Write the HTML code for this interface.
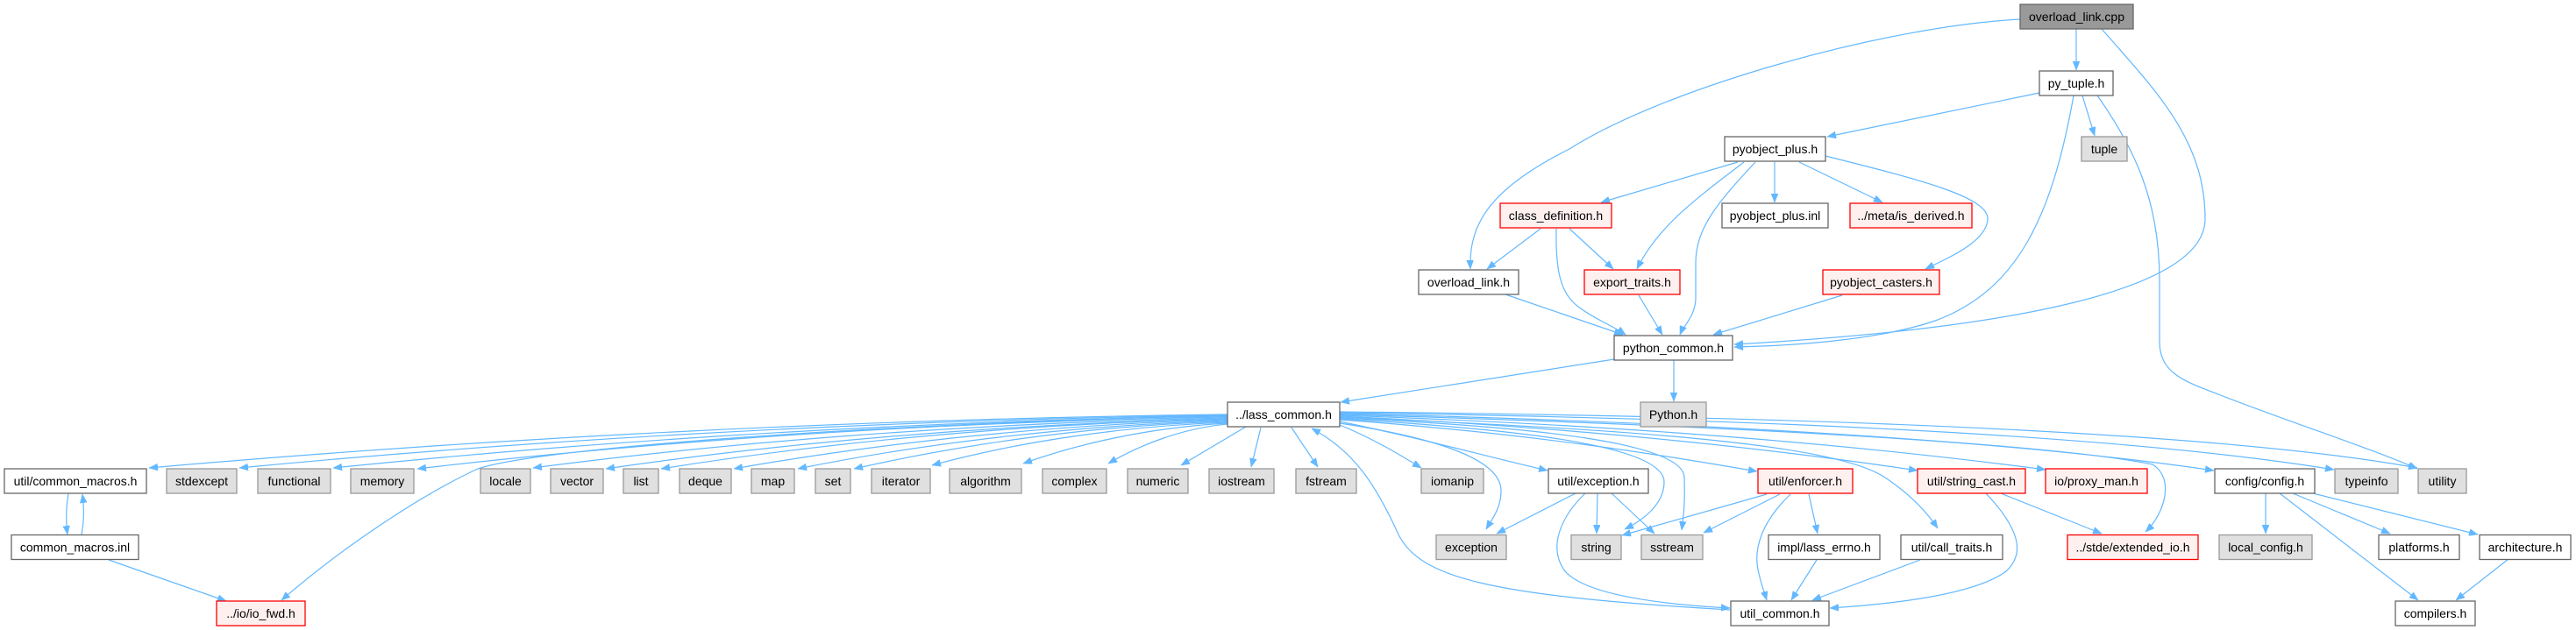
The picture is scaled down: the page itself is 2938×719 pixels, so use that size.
<!DOCTYPE html>
<html><head><meta charset="utf-8"><style>
html,body{margin:0;padding:0;background:#fff;}
svg{display:block;}
.w{fill:#fff;stroke:#666;stroke-width:1.3}
.g{fill:#e0e0e0;stroke:#999;stroke-width:1.3}
.r{fill:#fff0f0;stroke:#f00;stroke-width:1.3}
.root{fill:#999;stroke:#666;stroke-width:1.3}
text{font-family:"Liberation Sans",Arial,sans-serif;font-size:14px;fill:#000;text-anchor:middle}
.e path{fill:none;stroke:#63b8ff;stroke-width:1.2;marker-end:url(#a)}
</style></head><body>
<svg width="2938" height="719" viewBox="0 0 2938 719" xmlns="http://www.w3.org/2000/svg">
<defs><marker id="a" viewBox="0 0 10 8" refX="10" refY="4" markerWidth="10" markerHeight="8" markerUnits="userSpaceOnUse" orient="auto"><path d="M0,0 L10,4 L0,8 z" fill="#63b8ff" stroke="#63b8ff" stroke-width="0.5"/></marker></defs>
<g class="e">
<!-- top part -->
<path d="M2368,33 L2368,80"/>
<path d="M2304,22 C2150,30 1900,100 1790,170 C1700,215 1675,255 1677,307"/>
<path d="M2397,33 C2460,105 2515,160 2515,250 C2515,330 2300,375 1978,393"/>
<path d="M2326,106 L2084,156"/>
<path d="M2375,109 L2389,155"/>
<path d="M2365,109 C2340,250 2300,330 2210,365 C2140,390 2030,395 1978,396"/>
<path d="M2392,109 C2435,170 2463,230 2463,320 L2463,390 C2463,425 2490,435 2530,450 C2620,485 2700,510 2757,535"/>
<path d="M1982,185 L1826,231"/>
<path d="M1989,185 C1930,230 1890,260 1867,307"/>
<path d="M2002,185 C1960,230 1934,260 1934,300 L1934,340 C1934,360 1920,372 1916,382"/>
<path d="M2024,185 L2024,231"/>
<path d="M2052,185 L2147,231"/>
<path d="M2082,178 C2190,205 2268,225 2267,250 C2266,275 2225,293 2196,307"/>
<path d="M1757,261 L1696,307"/>
<path d="M1790,261 L1840,307"/>
<path d="M1775,261 C1774,310 1780,335 1800,350 C1820,365 1840,372 1854,382"/>
<path d="M1717,336 L1851,382"/>
<path d="M1869,337 L1896,382"/>
<path d="M2101,337 L1954,382"/>
<path d="M1909,411 L1909,458"/>
<path d="M1841,410 L1529,459"/>
<!-- lass_common left fan -->
<path d="M1400,473 C908,479 478,507 170,534"/>
<path d="M1400,474 C949,480 555,507 273,534"/>
<path d="M1400,475 C992,481 635,508 380,534"/>
<path d="M1400,476 C1030,482 707,508 476,535"/>
<path d="M1400,477 C1083,483 806,508 608,534"/>
<path d="M1400,478 C1116,484 868,509 691,535"/>
<path d="M1400,478 C1142,484 916,509 754,535"/>
<path d="M1400,479 C1175,485 978,510 837,535"/>
<path d="M1400,480 C1204,486 1033,510 910,535"/>
<path d="M1400,481 C1230,486 1080,511 974,535"/>
<path d="M1400,482 C1265,487 1147,508 1063,531"/>
<path d="M1400,483 C1307,488 1225,508 1167,529"/>
<path d="M1400,484 C1346,489 1298,509 1264,529"/>
<path d="M1400,474 C1000,484 620,510 545,535 C480,565 390,625 321,685"/>
<path d="M1421,487 L1347,531"/>
<path d="M1438,488 L1427,533"/>
<path d="M1473,488 L1503,533"/>
<!-- lass_common right fan -->
<path d="M1528,485 C1565,500 1595,518 1621,534"/>
<path d="M1528,481 C1620,500 1700,522 1765,537"/>
<path d="M1528,479 C1750,495 1900,520 2004,538"/>
<path d="M1528,483 C1640,500 1712,525 1712,560 C1712,580 1702,592 1695,604"/>
<path d="M1528,478 C1700,488 1898,505 1898,550 C1898,575 1875,593 1853,604"/>
<path d="M1528,477 C1750,487 1920,505 1921,545 C1922,575 1920,590 1918,605"/>
<path d="M1528,476 C1850,490 2090,505 2150,545 C2180,565 2198,585 2210,603"/>
<path d="M1528,475 C1800,488 2020,512 2187,537"/>
<path d="M1528,474 C1900,487 2150,512 2333,536"/>
<path d="M1528,473 C1950,485 2330,505 2455,530 C2480,545 2470,585 2447,607"/>
<path d="M1528,472 C2000,483 2330,508 2525,537"/>
<path d="M1528,471 C2100,479 2460,503 2662,536"/>
<path d="M1528,470 C2150,476 2560,498 2757,534"/>
<!-- lower -->
<path d="M78,563 C75,580 75,595 77,610"/>
<path d="M93,610 C96,595 96,580 94,564"/>
<path d="M124,639 L258,686"/>
<path d="M1797,563 L1707,609"/>
<path d="M1822,563 L1821,609"/>
<path d="M1838,563 L1887,609"/>
<path d="M1808,563 C1780,590 1765,625 1785,652 C1810,680 1900,690 1973,694"/>
<path d="M2015,564 L1850,611"/>
<path d="M2030,564 L1943,608"/>
<path d="M2042,564 C2010,595 2000,625 2005,650 C2008,665 2012,675 2015,685"/>
<path d="M2063,564 L2073,609"/>
<path d="M2072,639 L2043,685"/>
<path d="M2190,639 L2067,685"/>
<path d="M2265,563 C2300,600 2312,630 2288,652 C2250,680 2150,690 2087,694"/>
<path d="M2282,563 L2397,609"/>
<path d="M1973,696 C1700,680 1620,660 1595,610 C1570,555 1545,515 1496,489"/>
<path d="M2584,563 L2584,609"/>
<path d="M2615,563 L2726,609"/>
<path d="M2638,563 L2826,610"/>
<path d="M2600,563 L2758,685"/>
<path d="M2861,638 L2801,685"/>
</g>
<!-- nodes -->
<rect class="root" x="2304" y="5" width="129" height="28"/><text x="2368.5" y="24">overload_link.cpp</text>
<rect class="w" x="2326" y="81" width="84" height="28"/><text x="2368" y="100">py_tuple.h</text>
<rect class="w" x="1967" y="156" width="115" height="28"/><text x="2024.5" y="175">pyobject_plus.h</text>
<rect class="g" x="2374" y="156" width="52" height="28"/><text x="2400" y="175">tuple</text>
<rect class="r" x="1711" y="232" width="127" height="28"/><text x="1774.5" y="251">class_definition.h</text>
<rect class="w" x="1964" y="232" width="121" height="28"/><text x="2024.5" y="251">pyobject_plus.inl</text>
<rect class="r" x="2110" y="232" width="139" height="28"/><text x="2179.5" y="251">../meta/is_derived.h</text>
<rect class="w" x="1618" y="308" width="114" height="28"/><text x="1675" y="327">overload_link.h</text>
<rect class="r" x="1807" y="308" width="109" height="28"/><text x="1861.5" y="327">export_traits.h</text>
<rect class="r" x="2079" y="308" width="133" height="28"/><text x="2145.5" y="327">pyobject_casters.h</text>
<rect class="w" x="1841" y="383" width="135" height="28"/><text x="1908.5" y="402">python_common.h</text>
<rect class="w" x="1400" y="459" width="128" height="28"/><text x="1464" y="478">../lass_common.h</text>
<rect class="g" x="1871" y="459" width="75" height="28"/><text x="1908.5" y="478">Python.h</text>

<rect class="w" x="5" y="535" width="162" height="28"/><text x="86" y="554">util/common_macros.h</text>
<rect class="g" x="190" y="535" width="80" height="28"/><text x="230" y="554">stdexcept</text>
<rect class="g" x="294" y="535" width="83" height="28"/><text x="335.5" y="554">functional</text>
<rect class="g" x="400" y="535" width="72" height="28"/><text x="436" y="554">memory</text>
<rect class="g" x="548" y="535" width="57" height="28"/><text x="576.5" y="554">locale</text>
<rect class="g" x="628" y="535" width="60" height="28"/><text x="658" y="554">vector</text>
<rect class="g" x="711" y="535" width="40" height="28"/><text x="731" y="554">list</text>
<rect class="g" x="775" y="535" width="59" height="28"/><text x="804.5" y="554">deque</text>
<rect class="g" x="857" y="535" width="49" height="28"/><text x="881.5" y="554">map</text>
<rect class="g" x="930" y="535" width="40" height="28"/><text x="950" y="554">set</text>
<rect class="g" x="994" y="535" width="67" height="28"/><text x="1027.5" y="554">iterator</text>
<rect class="g" x="1083" y="535" width="82" height="28"/><text x="1124" y="554">algorithm</text>
<rect class="g" x="1189" y="535" width="73" height="28"/><text x="1225.5" y="554">complex</text>
<rect class="g" x="1286" y="535" width="69" height="28"/><text x="1320.5" y="554">numeric</text>
<rect class="g" x="1379" y="535" width="74" height="28"/><text x="1416" y="554">iostream</text>
<rect class="g" x="1478" y="535" width="69" height="28"/><text x="1512.5" y="554">fstream</text>
<rect class="g" x="1621" y="535" width="71" height="28"/><text x="1656.5" y="554">iomanip</text>
<rect class="w" x="1766" y="535" width="114" height="28"/><text x="1823" y="554">util/exception.h</text>
<rect class="r" x="2005" y="535" width="108" height="28"/><text x="2059" y="554">util/enforcer.h</text>
<rect class="r" x="2187" y="535" width="123" height="28"/><text x="2248.5" y="554">util/string_cast.h</text>
<rect class="r" x="2333" y="535" width="116" height="28"/><text x="2391" y="554">io/proxy_man.h</text>
<rect class="w" x="2526" y="535" width="114" height="28"/><text x="2583" y="554">config/config.h</text>
<rect class="g" x="2663" y="535" width="72" height="28"/><text x="2699" y="554">typeinfo</text>
<rect class="g" x="2758" y="535" width="55" height="28"/><text x="2785.5" y="554">utility</text>

<rect class="w" x="13" y="610.5" width="145" height="28"/><text x="85.5" y="629.5">common_macros.inl</text>
<rect class="g" x="1638" y="610.5" width="80" height="28"/><text x="1678" y="629.5">exception</text>
<rect class="g" x="1792" y="610.5" width="57" height="28"/><text x="1820.5" y="629.5">string</text>
<rect class="g" x="1872" y="610.5" width="70" height="28"/><text x="1907" y="629.5">sstream</text>
<rect class="w" x="2017" y="610.5" width="127" height="28"/><text x="2080.5" y="629.5">impl/lass_errno.h</text>
<rect class="w" x="2168" y="610.5" width="116" height="28"/><text x="2226" y="629.5">util/call_traits.h</text>
<rect class="r" x="2358" y="610.5" width="149" height="28"/><text x="2432.5" y="629.5">../stde/extended_io.h</text>
<rect class="g" x="2531" y="610.5" width="106" height="28"/><text x="2584" y="629.5">local_config.h</text>
<rect class="w" x="2713" y="610.5" width="92" height="28"/><text x="2759" y="629.5">platforms.h</text>
<rect class="w" x="2828" y="610.5" width="104" height="28"/><text x="2880" y="629.5">architecture.h</text>

<rect class="r" x="247" y="686" width="101" height="28"/><text x="297.5" y="705">../io/io_fwd.h</text>
<rect class="w" x="1974" y="686" width="112" height="28"/><text x="2030" y="705">util_common.h</text>
<rect class="w" x="2732" y="686" width="91" height="28"/><text x="2777.5" y="705">compilers.h</text>
</svg>
</body></html>
